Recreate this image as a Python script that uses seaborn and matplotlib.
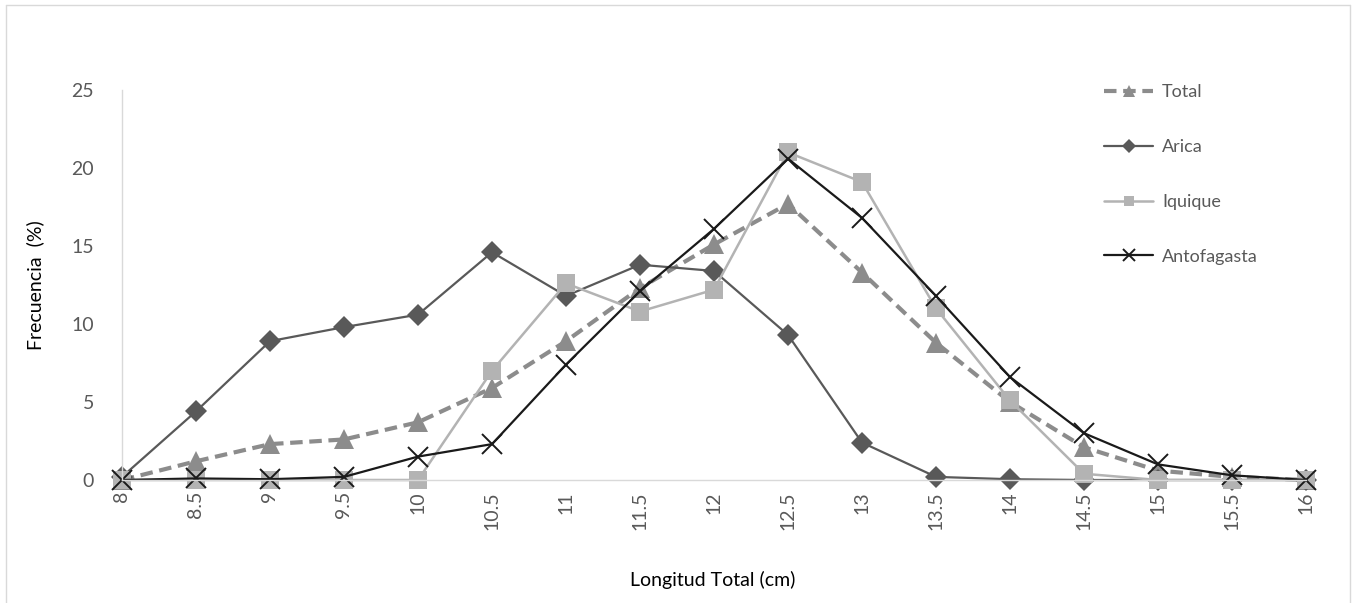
import pandas as pd
import matplotlib
matplotlib.use("Agg")
import matplotlib.pyplot as plt
import seaborn as sns
from matplotlib.lines import Line2D

# Longitud total (cm) categories
longitud = [8, 8.5, 9, 9.5, 10, 10.5, 11, 11.5, 12, 12.5, 13, 13.5, 14, 14.5, 15, 15.5, 16]
tick_labels = ["8", "8.5", "9", "9.5", "10", "10.5", "11", "11.5", "12", "12.5",
               "13", "13.5", "14", "14.5", "15", "15.5", "16"]

# Frecuencia (%) per zone
total = [0.0, 1.2, 2.3, 2.6, 3.7, 5.9, 8.9, 12.3, 15.1, 17.7, 13.3, 8.8, 5.0, 2.1, 0.6, 0.2, 0.0]
arica = [0.2, 4.4, 8.9, 9.8, 10.6, 14.6, 11.8, 13.8, 13.4, 9.3, 2.4, 0.2, 0.05, 0.0, 0.0, 0.0, 0.0]
iquique = [0.0, 0.0, 0.0, 0.0, 0.0, 7.0, 12.6, 10.8, 12.2, 21.0, 19.1, 11.0, 5.1, 0.4, 0.0, 0.0, 0.0]
antofagasta = [0.0, 0.1, 0.05, 0.2, 1.5, 2.3, 7.4, 12.1, 16.1, 20.6, 16.8, 11.8, 6.6, 3.0, 1.0, 0.3, 0.0]

sns.set_style("white")
plt.rcParams["font.family"] = ["Lato", "DejaVu Sans"]

fig = plt.figure(figsize=(13.57, 6.03), dpi=100)
ax = fig.add_axes([122 / 1357, 123 / 603, (1306 - 122) / 1357, (480 - 90) / 603])

series = [
    ("Total", total, dict(color="#8c8c8c", linewidth=3.0, linestyle=(0, (3, 1.6)),
                          marker="^", markersize=14, markeredgewidth=0)),
    ("Arica", arica, dict(color="#595959", linewidth=1.6, marker="D", markersize=11.5,
                          markeredgewidth=0)),
    ("Iquique", iquique, dict(color="#b3b3b3", linewidth=1.8, marker="s", markersize=12.5,
                              markeredgewidth=0)),
    ("Antofagasta", antofagasta, dict(color="#1a1a1a", linewidth=1.6, marker="x",
                                      markersize=14, markeredgewidth=1.4,
                                      markeredgecolor="#1a1a1a")),
]

handles = []
for name, values, style in series:
    df = pd.DataFrame({"longitud": longitud, "frecuencia": values})
    sns.lineplot(data=df, x="longitud", y="frecuencia", ax=ax, clip_on=False, **style)
    leg_style = dict(style)
    leg_style["markersize"] = style["markersize"] * 0.6
    handles.append(Line2D([], [], label=name, **leg_style))

ax.set_xlim(8, 16)
ax.set_ylim(0, 25)
ax.set_xticks(longitud)
ax.set_xticklabels(tick_labels, rotation=90, va="top")
ax.set_yticks([0, 5, 10, 15, 20, 25])
ax.tick_params(axis="x", length=0, pad=8, labelsize=14, labelcolor="#595959")
ax.tick_params(axis="y", length=0, pad=20, labelsize=14, labelcolor="#595959")

for side in ["top", "right"]:
    ax.spines[side].set_visible(False)
ax.spines["left"].set_color("#d9d9d9")
ax.spines["bottom"].set_color("#d9d9d9")
ax.spines["left"].set_linewidth(1.0)
ax.spines["bottom"].set_linewidth(1.0)

ax.set_xlabel("")
ax.set_ylabel("")
fig.text(713 / 1357, 1 - 580 / 603, "Longitud Total (cm)", ha="center", va="center",
         fontsize=14, color="#000000")
fig.text(35 / 1357, 1 - 285 / 603, "Frecuencia  (%)", ha="center", va="center",
         rotation=90, fontsize=14, color="#000000")

leg = ax.legend(handles=handles, loc="upper left", bbox_to_anchor=(1088 / 1357, 1 - 68 / 603),
                bbox_transform=fig.transFigure, frameon=False, fontsize=13,
                labelspacing=2.15, handlelength=2.7, handletextpad=0.5, labelcolor="#595959")

# light border around the chart area
border = dict(color="#d9d9d9", linewidth=1.0, transform=fig.transFigure)
fig.add_artist(Line2D([6 / 1357, 6 / 1357], [0, 1 - 5 / 603], **border))
fig.add_artist(Line2D([6 / 1357, 1350 / 1357], [1 - 5 / 603, 1 - 5 / 603], **border))
fig.add_artist(Line2D([1350 / 1357, 1350 / 1357], [0, 1 - 5 / 603], **border))

fig.savefig("out.png", dpi=100)
